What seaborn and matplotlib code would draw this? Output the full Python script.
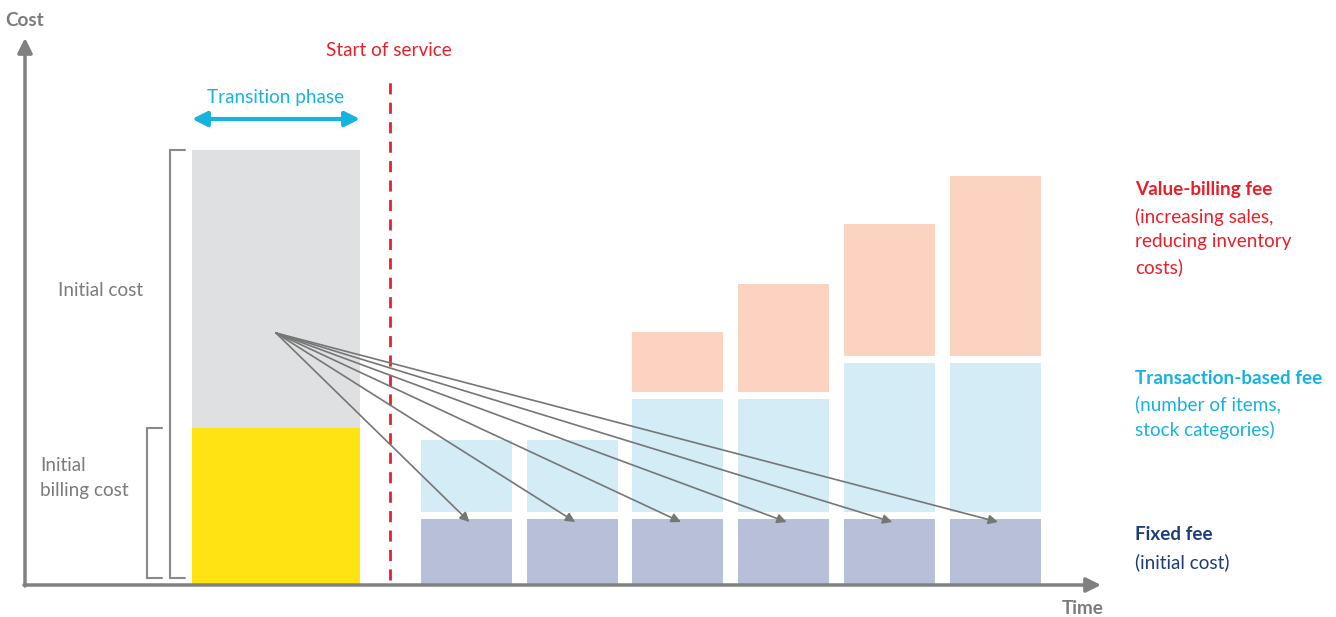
import matplotlib
matplotlib.use("Agg")
import matplotlib.pyplot as plt
import seaborn as sns
import numpy as np

# ---- data (cost units) ----
periods = ["Period 1", "Period 2", "Period 3", "Period 4", "Period 5", "Period 6"]
fixed_fee = [66, 66, 66, 66, 66, 66]
transaction_fee = [72, 72, 113, 113, 149, 149]
value_fee = [0, 0, 60, 108, 132, 180]
initial_billing_cost = 157
initial_cost_rest = 278

# ---- styles ----
C_GREY_BAR = "#dfe0e2"
C_YELLOW = "#ffe312"
C_FIXED = "#b8bfd9"
C_TRANS = "#d4ecf6"
C_VALUE = "#fcd2c0"
C_RED = "#e8202a"
C_CYAN = "#17b3e0"
C_NAVY = "#1e3d78"
C_AXIS = "#808080"
C_TEXT = "#7b7b7b"
C_ARROW = "#767676"
FS = 13.6
LS = 1.55

sns.set_theme(style="white")
plt.rcParams["font.family"] = ["Lato", "DejaVu Sans"]

fig = plt.figure(figsize=(13.36, 6.17), dpi=100)
ax = fig.add_axes([0, 0, 1, 1])
ax.axis("off")

GAP = 7
first_center = 441.5
spacing = 105.7
centers = [first_center + i * spacing for i in range(len(periods))]
init_center = 251

# initial (transition) bar
sns.barplot(x=[init_center], y=[initial_billing_cost], native_scale=True, width=168,
            color=C_YELLOW, saturation=1, linewidth=0, ax=ax)
sns.barplot(x=[init_center], y=[initial_cost_rest], native_scale=True, width=168,
            color=C_GREY_BAR, saturation=1, linewidth=0, bottom=[initial_billing_cost], ax=ax)

fixed = np.array(fixed_fee, float)
trans = np.array(transaction_fee, float)
val = np.array(value_fee, float)
w = 91 / spacing
sns.barplot(x=centers, y=fixed, native_scale=True, width=w, color=C_FIXED,
            saturation=1, linewidth=0, ax=ax)
sns.barplot(x=centers, y=trans, native_scale=True, width=w, color=C_TRANS,
            saturation=1, linewidth=0, bottom=fixed + GAP, ax=ax)
mask = val > 0
sns.barplot(x=list(np.array(centers)[mask]), y=val[mask], native_scale=True, width=w,
            color=C_VALUE, saturation=1, linewidth=0,
            bottom=(fixed + trans + 2 * GAP)[mask], ax=ax)

ax.set_xlim(-25, 1311)
ax.set_ylim(-32, 585)
ax.axis("off")

# axes with arrows
ax.annotate("", xy=(0, 547), xytext=(0, -1),
            arrowprops=dict(arrowstyle="-|>", color=C_AXIS, lw=2.5, mutation_scale=22,
                            shrinkA=0, shrinkB=0))
ax.annotate("", xy=(1076, 0), xytext=(-1, 0),
            arrowprops=dict(arrowstyle="-|>", color=C_AXIS, lw=2.5, mutation_scale=22,
                            shrinkA=0, shrinkB=0))
ax.text(-20, 565, "Cost", color=C_TEXT, fontsize=FS, fontweight="bold", ha="left", va="center")
ax.text(1037, -24, "Time", color=C_TEXT, fontsize=FS, fontweight="bold", ha="left", va="center")

# start of service
ax.plot([365, 365], [5, 510], color=C_RED, lw=2, ls=(0, (4, 3)))
ax.text(364, 534, "Start of service", color=C_RED, fontsize=FS, ha="center", va="center")

# transition phase
ax.annotate("", xy=(167, 466), xytext=(335, 466),
            arrowprops=dict(arrowstyle="<|-|>", color=C_CYAN, lw=3, mutation_scale=22,
                            shrinkA=0, shrinkB=0))
ax.text(251, 488, "Transition phase", color=C_CYAN, fontsize=FS, ha="center", va="center")

# brackets
def bracket(x, x2, y0, y1):
    ax.plot([x2, x, x, x2], [y0, y0, y1, y1], color="#8a8a8a", lw=1.5,
            solid_joinstyle="miter")

bracket(145, 160, 7, 435)
bracket(122, 137, 7, 157)
ax.text(33, 295, "Initial cost", color=C_TEXT, fontsize=FS, ha="left", va="center")
ax.text(15, 107, "Initial\nbilling cost", color=C_TEXT, fontsize=FS, ha="left",
        va="center", linespacing=LS)

# arrows from transition cost to fixed fees
origin = (251, 252)
for c, f in zip(centers, fixed_fee):
    ax.annotate("", xy=(c + 3, f - 3), xytext=origin,
                arrowprops=dict(arrowstyle="-|>", color=C_ARROW, lw=1.2, mutation_scale=14,
                                shrinkA=0, shrinkB=0))

# legend labels on right
lx = 1110
ax.text(lx, 395, "Value-billing fee", color=C_RED, fontsize=FS, fontweight="bold",
        ha="left", va="center")
ax.text(lx, 343, "(increasing sales,\nreducing inventory\ncosts)", color=C_RED, fontsize=FS,
        ha="left", va="center", linespacing=LS)
ax.text(lx, 206, "Transaction-based fee", color=C_CYAN, fontsize=FS, fontweight="bold",
        ha="left", va="center")
ax.text(lx, 168, "(number of items,\nstock categories)", color=C_CYAN, fontsize=FS,
        ha="left", va="center", linespacing=LS)
ax.text(lx, 50, "Fixed fee", color=C_NAVY, fontsize=FS, fontweight="bold",
        ha="left", va="center")
ax.text(lx, 23, "(initial cost)", color=C_NAVY, fontsize=FS, ha="left", va="center")

fig.savefig("out.png", dpi=100, facecolor="white")
